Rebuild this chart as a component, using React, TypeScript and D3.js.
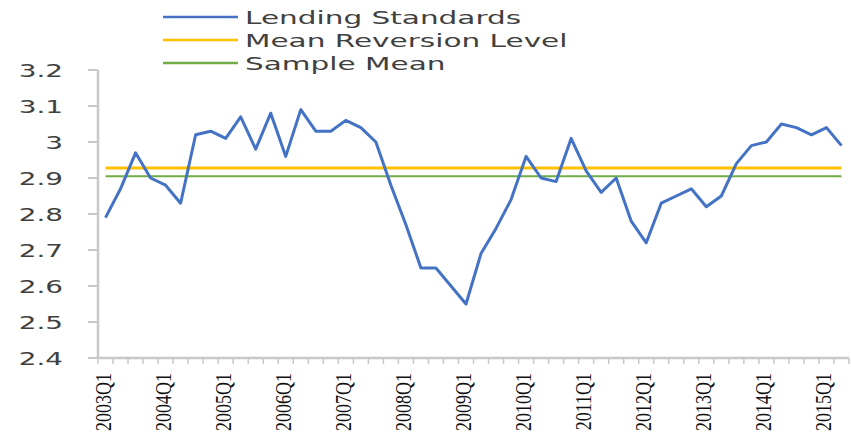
import React from 'react';
import * as d3 from 'd3';

// quarters 2003Q1 .. 2015Q2
const years = [2003, 2004, 2005, 2006, 2007, 2008, 2009, 2010, 2011, 2012, 2013, 2014, 2015];
const quarters: string[] = years
  .flatMap((y) => ['Q1', 'Q2', 'Q3', 'Q4'].map((q) => `${y}${q}`))
  .slice(0, 50);

const lendingStandards = [
  2.79, 2.87, 2.97, 2.9, 2.88, 2.83, 3.02, 3.03, 3.01, 3.07,
  2.98, 3.08, 2.96, 3.09, 3.03, 3.03, 3.06, 3.04, 3.0, 2.88,
  2.77, 2.65, 2.65, 2.6, 2.55, 2.69, 2.76, 2.84, 2.96, 2.9,
  2.89, 3.01, 2.92, 2.86, 2.9, 2.78, 2.72, 2.83, 2.85, 2.87,
  2.82, 2.85, 2.94, 2.99, 3.0, 3.05, 3.04, 3.02, 3.04, 2.99,
];
const meanReversionLevel = 2.928;
const sampleMean = 2.905;

const yTicks = [2.4, 2.5, 2.6, 2.7, 2.8, 2.9, 3, 3.1, 3.2];

const legendItems = [
  { label: 'Lending Standards', color: '#4472C4' },
  { label: 'Mean Reversion Level', color: '#FFC000' },
  { label: 'Sample Mean', color: '#70AD47' },
];

const W = 851;
const H = 435;
const left = 98;
const right = 849;
const top = 70;
const bottom = 358;
const stretch = 1.64; // text in the picture is stretched sideways

export default function App() {
  const x = d3.scaleBand<string>().domain(quarters).range([left, right]).paddingInner(0).paddingOuter(0);
  const y = d3.scaleLinear().domain([2.4, 3.2]).range([bottom, top]);
  const cx = (q: string) => (x(q) as number) + x.bandwidth() / 2;

  const line = d3
    .line<number>()
    .x((_, i) => cx(quarters[i]))
    .y((d) => y(d));

  const x0 = cx(quarters[0]);
  const x1 = cx(quarters[quarters.length - 1]);
  const yearLabels = quarters.filter((q) => q.endsWith('Q1'));

  return (
    <svg
      width={W}
      height={H}
      style={{ position: 'absolute', left: 0, top: 0, background: '#fff' }}
    >
      {/* legend */}
      {legendItems.map((d, i) => (
        <g key={d.label}>
          <line x1={163} x2={238} y1={17 + i * 23} y2={17 + i * 23} stroke={d.color} strokeWidth={2.5} />
          <text
            transform={`translate(245, ${23.5 + i * 23.3}) scale(${stretch}, 1)`}
            fontFamily="DejaVu Sans"
            fontSize={18}
            fill="#404040"
          >
            {d.label}
          </text>
        </g>
      ))}

      {/* y axis */}
      <line x1={left} x2={left} y1={top} y2={bottom} stroke="#c8c8c8" strokeWidth={2.5} />
      {yTicks.map((t) => (
        <g key={t}>
          <line x1={88} x2={left} y1={y(t)} y2={y(t)} stroke="#c8c8c8" strokeWidth={2} />
          <text
            transform={`translate(63, ${y(t) + 6.5}) scale(${stretch}, 1)`}
            textAnchor="end"
            fontFamily="DejaVu Sans"
            fontSize={17}
            fill="#404040"
          >
            {d3.format('~g')(t)}
          </text>
        </g>
      ))}

      {/* x axis */}
      <line x1={left} x2={right} y1={bottom} y2={bottom} stroke="#c8c8c8" strokeWidth={2.5} />
      {quarters.concat(['end']).map((q, i) => {
        const px = i < quarters.length ? (x(q) as number) : right;
        return <line key={q} x1={px} x2={px} y1={bottom} y2={bottom + 6} stroke="#c8c8c8" strokeWidth={1.5} />;
      })}
      {yearLabels.map((q) => (
        <text
          key={q}
          transform={`translate(${cx(q) + 5}, 373) scale(1.25, 1) rotate(-90)`}
          textAnchor="end"
          fontFamily="Liberation Serif"
          fontSize={18}
          fill="#111"
        >
          {q}
        </text>
      ))}

      {/* mean lines */}
      <line x1={x0} x2={x1} y1={y(meanReversionLevel)} y2={y(meanReversionLevel)} stroke="#FFC000" strokeWidth={3} />
      <line x1={x0} x2={x1} y1={y(sampleMean)} y2={y(sampleMean)} stroke="#70AD47" strokeWidth={2} />

      {/* series */}
      <path
        d={line(lendingStandards) ?? ''}
        fill="none"
        stroke="#4472C4"
        strokeWidth={3}
        strokeLinejoin="round"
      />
    </svg>
  );
}
